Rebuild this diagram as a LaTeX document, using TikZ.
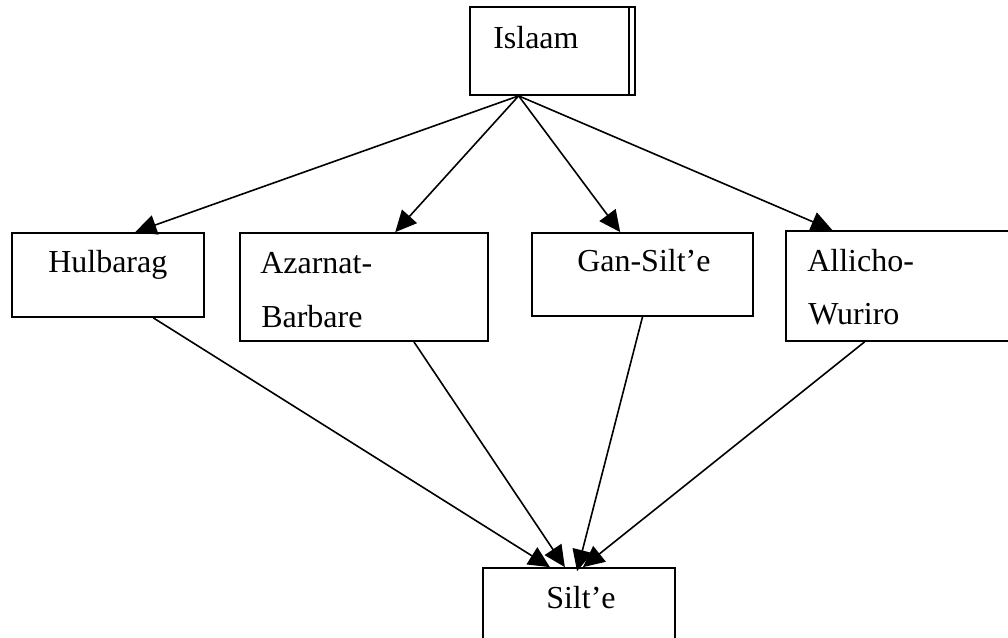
\documentclass[tikz,border=0pt]{standalone}
\usepackage{fontspec}
\setmainfont{Liberation Serif}
\usetikzlibrary{calc,arrows.meta}
\tikzset{>={Triangle[length=16pt,width=15pt]}}
\tikzset{box/.style={draw, line width=1.3pt, inner sep=0pt},
  word/.style={inner sep=0pt, anchor=base west,
    font=\fontsize{24}{29}\selectfont},
  link/.style={->, line width=1.2pt}}

\begin{document}
\begin{tikzpicture}[x=0.75pt,y=-0.75pt]
\useasboundingbox (0,0) rectangle (1008,637);
\clip (0,0) rectangle (1008,637);
% boxes
\node[box, minimum width=123.75pt, minimum height=66pt] (isl) at (552.5,51) {};
\draw[line width=1.3pt] ($(isl.north east)+(-7,0)$) -- ($(isl.south east)+(-7,0)$);
\node[box, minimum width=144pt, minimum height=63pt] (hul) at (108,275) {};
\node[box, minimum width=186pt, minimum height=81pt] (aza) at (364,287) {};
\node[box, minimum width=165.75pt, minimum height=62.25pt] (gan) at (642.5,274.5) {};
\node[box, minimum width=172.5pt, minimum height=82.5pt] (all) at (901,286) {};
\node[box, minimum width=144pt, minimum height=69pt] (sil) at (579,614) {};
% texts
\node[word] (islt) at (493,48) {Islaam};
\node[word] (hult) at (48,272) {Hulbarag};
\node[word] (azat) at (260,273) {Azarnat-};
\node[word] (azab) at (261,327) {Barbare};
\node[word] (gant) at (577,271) {Gan-Silt'e};
\node[word] (allt) at (807,271) {Allicho-};
\node[word] (allb) at (808,324) {Wuriro};
\node[word] (silt) at (546,608) {Silt'e};
% from Islaam
\draw[link] ($(isl.south west)!0.297!(isl.south east)$) -- ($(hul.north west)!0.64!(hul.north east)$);
\draw[link] ($(isl.south west)!0.297!(isl.south east)$) -- ($(aza.north west)!0.625!(aza.north east)$);
\draw[link] ($(isl.south west)!0.297!(isl.south east)$) -- ($(gan.north west)!0.40!(gan.north east)$);
\draw[link] ($(isl.south west)!0.297!(isl.south east)$) -- ($(all.north west)!0.204!(all.north east)$);
% into Silt'e
\draw[link] ($(hul.south west)!0.734!(hul.south east)$) -- ($(sil.north west)!0.35!(sil.north east)$);
\draw[link] ($(aza.south west)!0.70!(aza.south east)$) -- ($(sil.north west)!0.427!(sil.north east)$);
\draw[link] ($(gan.south west)!0.50!(gan.south east)$) -- ($(sil.north west)!0.49!(sil.north east)+(0,4)$);
\draw[link] ($(all.south west)!0.343!(all.south east)$) -- ($(sil.north west)!0.52!(sil.north east)$);
\end{tikzpicture}
\end{document}
